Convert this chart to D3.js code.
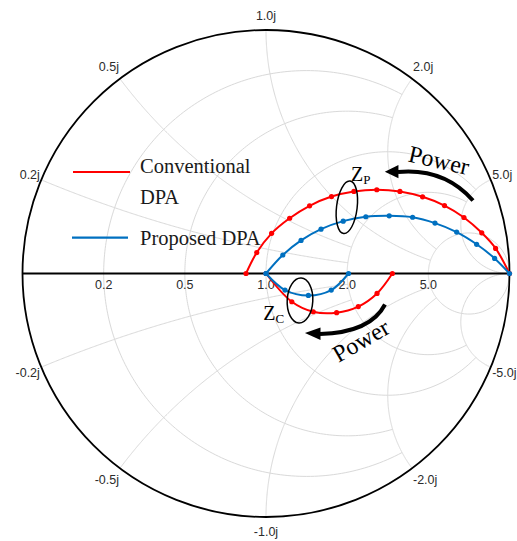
<!DOCTYPE html>
<html>
<head>
<meta charset="utf-8">
<script src="https://cdn.jsdelivr.net/npm/d3@7"></script>
<style>
  html, body { margin: 0; padding: 0; background: #fff; }
  svg { display: block; }
</style>
</head>
<body>
<svg id="chart" width="517" height="541"></svg>
<script>
// ---- Grid ticks (normalized impedance) ----
const realTicks = [0.2, 0.5, 1, 2, 5];
const realTickLabels = ["0.2", "0.5", "1.0", "2.0", "5.0"];
const imagTicks = [0.2, 0.5, 1, 2, 5, -0.2, -0.5, -1, -2, -5];
const imagTickLabels = ["0.2j", "0.5j", "1.0j", "2.0j", "5.0j", "-0.2j", "-0.5j", "-1.0j", "-2.0j", "-5.0j"];
// how far each grid arc runs across the other family (same order as realTicks)
const gridReach = [2, 2, 5, 5, Infinity];

// ---- Load trajectories as reflection coefficients [Re Γ, Im Γ] ----
const conventionalZp = [[-0.082, 0], [-0.038, 0.086], [0.023, 0.165], [0.097, 0.227], [0.179, 0.278],
  [0.269, 0.316], [0.361, 0.337], [0.455, 0.344], [0.550, 0.337], [0.643, 0.315], [0.733, 0.279],
  [0.813, 0.230], [0.886, 0.167], [0.943, 0.103], [1.0, 0]];
const conventionalZc = [[0, 0], [0.106, -0.116], [0.194, -0.157], [0.290, -0.161], [0.379, -0.136],
  [0.456, -0.082], [0.519, 0]];
const proposedZp = [[0, 0], [0.069, 0.076], [0.144, 0.136], [0.226, 0.182], [0.317, 0.215], [0.410, 0.233],
  [0.506, 0.237], [0.602, 0.231], [0.694, 0.207], [0.783, 0.170], [0.865, 0.120], [0.939, 0.062], [1.0, 0]];
const proposedZc = [[0, 0], [0.078, -0.068], [0.174, -0.090], [0.268, -0.068], [0.339, 0]];

const seriesNames = ["Conventional DPA", "Proposed DPA"];
const seriesColors = ["#ff0000", "#0070c0"];

// ---- Layout ----
const cx = 266, cy = 273.5, R = 243.5;
const sx = d3.scaleLinear().domain([-1, 1]).range([cx - R, cx + R]);
const sy = d3.scaleLinear().domain([-1, 1]).range([cy + R, cy - R]);

const svg = d3.select("#chart");
const sans = "'Liberation Sans', Arial, sans-serif";
const serif = "'Liberation Serif', 'Times New Roman', serif";

// impedance -> reflection coefficient
function smith(r, x) {
  if (!isFinite(r) || !isFinite(x)) return [1, 0];
  const D = (r + 1) * (r + 1) + x * x;
  return [(r * r + x * x - 1) / D, 2 * x / D];
}

const line = d3.line().x(p => sx(p[0])).y(p => sy(p[1]));
const smoothLine = d3.line().x(p => sx(p[0])).y(p => sy(p[1])).curve(d3.curveCatmullRom.alpha(0.5));

// constant-resistance circle, from -reach to +reach reactance
function resistanceArc(r, reach) {
  const vMax = isFinite(reach) ? Math.atan(reach) : Math.PI / 2;
  return d3.range(0, 241).map(i => smith(r, Math.tan(-vMax + 2 * vMax * i / 240)));
}
// constant-reactance arc, from r = 0 out to r = reach
function reactanceArc(x, reach) {
  const uMax = isFinite(reach) ? reach / (1 + reach) : 1;
  return d3.range(0, 241).map(i => {
    const u = uMax * i / 240;
    return smith(u >= 1 ? Infinity : u / (1 - u), x);
  });
}

// ---- Grid ----
const grid = svg.append("g").attr("fill", "none").attr("stroke", "#d9d9d9").attr("stroke-width", 1);
realTicks.forEach((r, i) => {
  grid.append("path").attr("d", line(resistanceArc(r, gridReach[i])));
});
imagTicks.forEach(x => {
  const idx = realTicks.indexOf(Math.abs(x));
  grid.append("path").attr("d", line(reactanceArc(x, gridReach[idx])));
});

// outer circle and real axis
svg.append("circle")
  .attr("cx", sx(0)).attr("cy", sy(0)).attr("r", sx(1) - sx(0))
  .attr("fill", "none").attr("stroke", "#000").attr("stroke-width", 1.8);
svg.append("line")
  .attr("x1", sx(-1)).attr("x2", sx(1)).attr("y1", sy(0)).attr("y2", sy(0))
  .attr("stroke", "#000").attr("stroke-width", 1.8);

// ---- Tick labels ----
const tickText = svg.append("g").attr("font-family", sans).attr("font-size", 12.5).attr("fill", "#2b2b2b");
realTicks.forEach((r, i) => {
  // label sits under the circle's crossing with the real axis
  tickText.append("text")
    .attr("x", sx((r - 1) / (r + 1)))
    .attr("y", sy(0) + 15)
    .attr("text-anchor", "middle")
    .text(realTickLabels[i]);
});
imagTicks.forEach((x, i) => {
  const g = smith(0, x);
  const a = Math.atan2(g[1], g[0]);
  const c = Math.cos(a), s = Math.sin(a);
  const px = sx(0) + (R + 1.5) * c;
  const py = sy(0) - (R + 7) * s - 7.5 * s;
  tickText.append("text")
    .attr("x", px).attr("y", py).attr("dy", "0.35em")
    .attr("text-anchor", Math.abs(c) < 0.05 ? "middle" : (c > 0 ? "start" : "end"))
    .text(imagTickLabels[i]);
});

// ---- Trajectories ----
function drawSeries(data, color) {
  const g = svg.append("g");
  g.append("path").attr("d", smoothLine(data))
    .attr("fill", "none").attr("stroke", color).attr("stroke-width", 2);
  g.selectAll("circle").data(data).join("circle")
    .attr("cx", p => sx(p[0])).attr("cy", p => sy(p[1])).attr("r", 2.6)
    .attr("fill", color);
}
drawSeries(conventionalZp, seriesColors[0]);
drawSeries(conventionalZc, seriesColors[0]);
drawSeries(proposedZp, seriesColors[1]);
drawSeries(proposedZc, seriesColors[1]);

// ---- Annotations (anchored in Γ coordinates) ----
const ann = svg.append("g");
function ellipse(center, rx, ry, tilt) {
  ann.append("ellipse")
    .attr("transform", `translate(${sx(center[0])},${sy(center[1])}) rotate(${tilt})`)
    .attr("rx", rx).attr("ry", ry)
    .attr("fill", "none").attr("stroke", "#000").attr("stroke-width", 1.5);
}
ellipse([0.332, 0.272], 10.3, 26.5, 7);
ellipse([0.1396, -0.111], 12.8, 22.5, 3);

function zLabel(pos, sub) {
  const t = ann.append("text")
    .attr("x", sx(pos[0])).attr("y", sy(pos[1]))
    .attr("font-family", serif).attr("font-size", 20).attr("fill", "#000");
  t.append("tspan").text("Z");
  t.append("tspan").attr("font-size", 13).attr("dy", 3).text(sub);
}
zLabel([0.349, 0.378], "P");
zLabel([-0.011, -0.191], "C");

function arrow(p0, c1, c2, p3, head) {
  const P = p => [sx(p[0]), sy(p[1])];
  const a = P(p0), b = P(c1), c = P(c2), d = P(p3);
  ann.append("path")
    .attr("d", `M${a}C${b} ${c} ${d}`)
    .attr("fill", "none").attr("stroke", "#000").attr("stroke-width", 4);
  ann.append("path")
    .attr("d", "M" + head.map(P).join("L") + "Z")
    .attr("fill", "#000");
}
arrow([0.850, 0.300], [0.776, 0.384], [0.6735, 0.429], [0.542, 0.417],
  [[0.488, 0.418], [0.544, 0.4456], [0.544, 0.391]]);
arrow([0.4887, -0.1273], [0.4517, -0.1992], [0.3655, -0.2444], [0.2218, -0.2485],
  [[0.160, -0.2444], [0.2238, -0.2218], [0.2238, -0.2731]]);

function powerLabel(pos, angle) {
  ann.append("text")
    .attr("transform", `translate(${sx(pos[0])},${sy(pos[1])}) rotate(${angle})`)
    .attr("text-anchor", "middle").attr("dy", "0.33em")
    .attr("font-family", serif).attr("font-size", 24).attr("fill", "#000")
    .text("Power");
}
powerLabel([0.7105, 0.464], 13);
powerLabel([0.390, -0.276], -30);

// ---- Legend ----
const legend = svg.append("g").attr("font-family", serif).attr("font-size", 20.5).attr("fill", "#1a1a1a");
legend.append("line").attr("x1", 73).attr("x2", 130).attr("y1", 172).attr("y2", 172)
  .attr("stroke", seriesColors[0]).attr("stroke-width", 2.2);
legend.append("text").attr("x", 140).attr("y", 173).text("Conventional");
legend.append("text").attr("x", 140).attr("y", 203.5).text("DPA");
legend.append("line").attr("x1", 72).attr("x2", 128).attr("y1", 237.7).attr("y2", 237.7)
  .attr("stroke", seriesColors[1]).attr("stroke-width", 2.2);
legend.append("text").attr("x", 140).attr("y", 245).text(seriesNames[1]);
</script>
</body>
</html>
